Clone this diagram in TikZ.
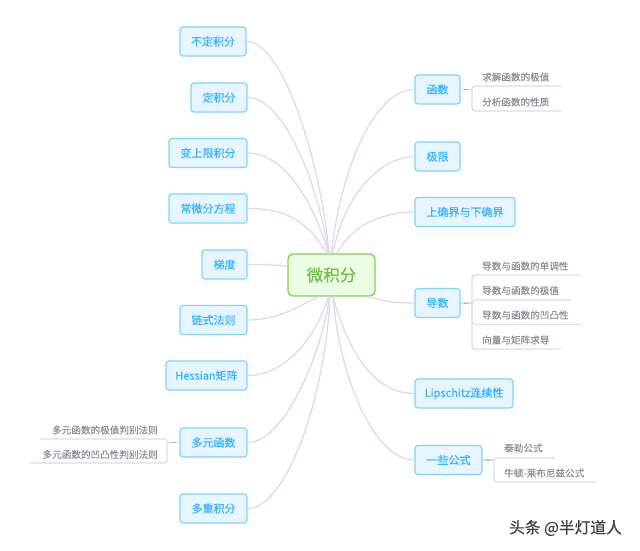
\documentclass[tikz,border=0pt]{standalone}
\usepackage{fontspec}
\setmainfont[FakeBold=0.25]{Noto Sans CJK SC}
\definecolor{boxfill}{HTML}{E6F5FF}
\definecolor{boxline}{HTML}{7FD3FF}
\definecolor{boxtext}{HTML}{35B2FF}
\definecolor{rootfill}{HTML}{EDFCE4}
\definecolor{rootline}{HTML}{80D24C}
\definecolor{roottext}{HTML}{6FC043}
\definecolor{linkcol}{HTML}{E3D6F3}
\definecolor{subtext}{HTML}{8A8F96}
\tikzset{
  x=1pt,y=-1pt,
  topic/.style={draw=boxline,fill=boxfill,text=boxtext,line width=1.2pt,rounded corners=3pt,
    inner sep=0pt,font=\fontsize{11}{11}\selectfont,minimum height=29pt},
  root/.style={draw=rootline,fill=rootfill,text=roottext,line width=1.3pt,rounded corners=5pt,
    inner sep=0pt,font=\fontsize{16.5}{16.5}\selectfont,minimum width=87pt,minimum height=42pt},
  leaf/.style={text=subtext,inner sep=0pt,font=\fontsize{9.6}{9.6}\selectfont},
  link/.style={draw=linkcol,line width=1.3pt},
  bracket/.style={draw=linkcol,line width=1.3pt,rounded corners=3pt},
  tick/.style={draw=subtext!70,line width=0.7pt},
}
\begin{document}
\begin{tikzpicture}
\useasboundingbox[fill=white] (0,0) rectangle (640,550);
% curves to the root (drawn first, so that the boxes sit on top)
\coordinate (c0) at (331.5,275);
\node[root] (c) at (c0) {微积分};
% left topics
\node[topic,minimum width=66pt] (l1) at (213,41.5) {不定积分};
\node[topic,minimum width=56pt] (l2) at (219,97.5) {定积分};
\node[topic,minimum width=78pt] (l3) at (208,153) {变上限积分};
\node[topic,minimum width=78pt] (l4) at (208,208.5) {常微分方程};
\node[topic,minimum width=45pt] (l5) at (224.5,264.5) {梯度};
\node[topic,minimum width=67pt] (l6) at (213.5,320) {链式法则};
\node[topic,minimum width=81pt] (l7) at (206.5,375.5) {Hessian矩阵};
\node[topic,minimum width=67pt] (l8) at (213.5,442.5) {多元函数};
\node[topic,minimum width=67pt] (l9) at (213.5,508.5) {多重积分};
% right topics
\node[topic,minimum width=45pt] (r1) at (437.5,89.5) {函数};
\node[topic,minimum width=45pt] (r2) at (437.5,156.5) {极限};
\node[topic,minimum width=100pt] (r3) at (465,212) {上确界与下确界};
\node[topic,minimum width=45pt] (r4) at (437.5,303) {导数};
\node[topic,minimum width=98pt] (r5) at (464,393.5) {Lipschitz连续性};
\node[topic,minimum width=67pt] (r6) at (448.5,460) {一些公式};
% leaves
\node[leaf,anchor=west] (a1) at (482,77) {求解函数的极值};
\node[leaf,anchor=west] (a2) at (482,102) {分析函数的性质};
\node[leaf,anchor=west] (b1) at (482,266) {导数与函数的单调性};
\node[leaf,anchor=west] (b2) at (482,290.5) {导数与函数的极值};
\node[leaf,anchor=west] (b3) at (482,315) {导数与函数的凹凸性};
\node[leaf,anchor=west] (b4) at (482,340) {向量与矩阵求导};
\node[leaf,anchor=east] (m1) at (158,430) {多元函数的极值判别法则};
\node[leaf,anchor=east] (m2) at (158,454.5) {多元函数的凹凸性判别法则};
\node[leaf,anchor=west] (g1) at (504,448) {泰勒公式};
\node[leaf,anchor=west] (g2) at (504,473) {牛顿-莱布尼兹公式};
% watermark
\node[inner sep=0pt,anchor=west,text=black!75,font=\fontsize{15.7}{15.7}\selectfont] (w) at (509,528) {头条 @半灯道人};
% curves to the root
\draw[link] (l1.east) .. controls +(38,0) and +(-7,-84) .. ([xshift=-2.5pt]c.north);
\draw[link] (l2.east) .. controls +(36,0) and +(-10,-70) .. ([xshift=-3pt]c.north);
\draw[link] (l3.east) .. controls +(35,0) and +(-16,-55) .. ([xshift=-3pt]c.north);
\draw[link] (l4.east) .. controls +(35,0) and +(-20,-35) .. ([xshift=-5pt]c.north);
\draw[link] (l5.east) .. controls +(15,0) and +(-15,-1) .. ([yshift=9pt]c.west);
\draw[link] (l6.east) .. controls +(30,0) and +(-20,10) .. ([xshift=-13pt]c.south);
\draw[link] (l7.east) .. controls +(38,0) and +(-12,40) .. ([xshift=-3pt]c.south);
\draw[link] (l8.east) .. controls +(38,0) and +(-7,54) .. ([xshift=-2pt]c.south);
\draw[link] (l9.east) .. controls +(38,0) and +(-5,104) .. ([xshift=-1.5pt]c.south);
\draw[link] (r1.west) .. controls +(-40,0) and +(9,-84) .. (c.north);
\draw[link] (r2.west) .. controls +(-30,0) and +(12,-64) .. ([xshift=1.5pt]c.north);
\draw[link] (r3.west) .. controls +(-30,0) and +(15,-29) .. ([xshift=5.5pt]c.north);
\draw[link] (r4.west) .. controls +(-22,0) and +(20,5) .. ([xshift=36.5pt]c.south);
\draw[link] (r5.west) .. controls +(-50,0) and +(9,33) .. ([xshift=1.5pt]c.south);
\draw[link] (r6.west) .. controls +(-40,0) and +(7,83) .. ([xshift=1.5pt]c.south);
% brackets
\coordinate (a1e) at (561,86); \coordinate (a2e) at (561,111);
\draw[bracket] (a1e) -- (472,86) -- (472,111) -- (a2e);
\draw[link] (r1.east) -- (472,89.5);
\draw[tick] (464,89.5) -- (468,89.5);
\coordinate (b1e) at (581,275); \coordinate (b2e) at (571,300);
\coordinate (b3e) at (581,324.5); \coordinate (b4e) at (561,349);
\draw[bracket] (b1e) -- (472,275) -- (472,349) -- (b4e);
\draw[bracket] (b2e) -- (472,300) -- (472,324.5) -- (b3e);
\draw[link] (r4.east) -- (472,303);
\draw[tick] (464,303) -- (468,303);
\coordinate (m1e) at (40,439); \coordinate (m2e) at (30,463);
\draw[bracket] (m1e) -- (167,439) -- (167,463) -- (m2e);
\draw[link] (l8.west) -- (167,442.5);
\draw[tick] (172,442.5) -- (176,442.5);
\coordinate (g1e) at (555,458); \coordinate (g2e) at (596,482);
\draw[bracket] (g1e) -- (494,458) -- (494,482) -- (g2e);
\draw[link] (r6.east) -- (494,460);
\draw[tick] (486,460) -- (490,460);
\end{tikzpicture}
\end{document}
